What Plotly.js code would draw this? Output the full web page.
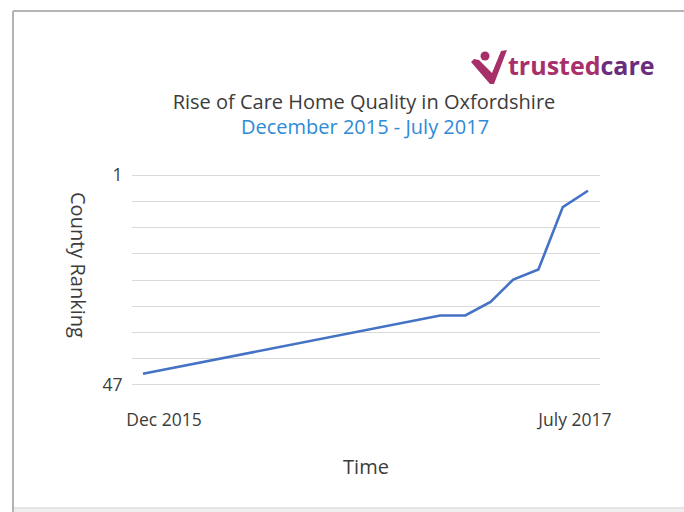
<!DOCTYPE html>
<html>
<head>
<meta charset="utf-8">
<script src="https://cdn.plot.ly/plotly-3.0.1.min.js"></script>
<style>html,body{margin:0;padding:0;background:#fff;}#chart{width:684px;height:512px;}</style>
</head>
<body>
<div id="chart"></div>
<script>
// ---- data ----
const months = ["2015-12-01","2016-12-01","2017-01-01","2017-02-01","2017-03-01","2017-04-01","2017-05-01","2017-06-01"];
const ranking = [44.6, 31.8, 31.8, 28.8, 23.9, 21.7, 8.0, 4.4];
const xTickVals = ["2015-12-27","2017-05-16"];
const xTickText = ["Dec 2015","July 2017"];
const yTickVals = [1, 6.75, 12.5, 18.25, 24, 29.75, 35.5, 41.25, 47];
const yTickText = ["1","","","","","","","","47"];
const titleText = "Rise of Care Home Quality in Oxfordshire";
const subtitleText = "December 2015 - July 2017";

// ---- layout helpers (pixel -> paper) ----
const L = 132, R = 600, T = 173, B = 387;
const fx = p => (p - L) / (R - L);
const fy = p => (B - p) / (B - T);
function path(pts) {
  return pts.map((c, i) => (i ? 'L' : 'M') + fx(c[0]).toFixed(4) + ',' + fy(c[1]).toFixed(4)).join(' ') + ' Z';
}

const FONT = '"Open Sans", sans-serif';
const TXT = '#3c3c3c';

const trace = {
  x: months, y: ranking, type: 'scatter', mode: 'lines',
  line: {color: '#4472c4', width: 2.6}, hoverinfo: 'skip'
};

const layout = {
  width: 684, height: 512,
  margin: {l: L, r: 684 - R, t: T, b: 512 - B, pad: 0},
  paper_bgcolor: '#ffffff', plot_bgcolor: '#ffffff',
  showlegend: false,
  font: {family: FONT, color: TXT},
  title: {
    text: titleText,
    font: {family: FONT, size: 20, color: TXT},
    xref: 'paper', x: fx(364), xanchor: 'center',
    yref: 'container', y: 1 - 102 / 512, yanchor: 'middle'
  },
  xaxis: {
    type: 'date',
    range: ["2015-11-17 12:00", "2017-06-15 20:00"],
    tickvals: xTickVals, ticktext: xTickText,
    ticks: 'outside', ticklen: 17, tickcolor: 'rgba(0,0,0,0)',
    tickfont: {family: FONT, size: 17.5, color: TXT},
    showgrid: false, zeroline: false, showline: false,
    title: {text: 'Time', font: {family: FONT, size: 20, color: TXT}, standoff: 29}
  },
  yaxis: {
    range: [47.5, 0.5],
    tickvals: yTickVals, ticktext: yTickText,
    ticks: 'outside', ticklen: 5, tickcolor: 'rgba(0,0,0,0)',
    tickfont: {family: FONT, size: 17.5, color: TXT},
    showgrid: true, gridcolor: '#d9d9d9', gridwidth: 1,
    zeroline: false, showline: false
  },
  annotations: [
    {text: subtitleText, xref: 'paper', yref: 'paper', x: fx(365), y: fy(126),
     xanchor: 'center', yanchor: 'middle', showarrow: false,
     font: {family: FONT, size: 20, color: '#2e8bd6'}},
    {text: 'County Ranking', textangle: 90, xref: 'paper', yref: 'paper',
     x: fx(79), y: fy(265), xanchor: 'center', yanchor: 'middle', showarrow: false,
     font: {family: FONT, size: 20, color: TXT}},
    {text: '<b><span style="color:#a8306a">trusted</span><span style="color:#6b2c7e">care</span></b>',
     xref: 'paper', yref: 'paper', x: fx(506), y: fy(65), xanchor: 'left', yanchor: 'middle',
     showarrow: false, font: {family: FONT, size: 25}}
  ],
  shapes: [
    // frame
    {type: 'line', xref: 'paper', yref: 'paper', x0: fx(13), x1: fx(684), y0: fy(11), y1: fy(11), line: {color: '#b4b4b4', width: 2}},
    {type: 'line', xref: 'paper', yref: 'paper', x0: fx(13), x1: fx(13), y0: fy(11), y1: fy(512), line: {color: '#b4b4b4', width: 2}},
    {type: 'rect', xref: 'paper', yref: 'paper', x0: fx(14), x1: fx(684), y0: fy(507), y1: fy(509), line: {width: 0}, fillcolor: '#e4e4e4'},
    {type: 'rect', xref: 'paper', yref: 'paper', x0: fx(14), x1: fx(684), y0: fy(509), y1: fy(512), line: {width: 0}, fillcolor: '#efefef'},
    // logo icon
    {type: 'path', xref: 'paper', yref: 'paper', line: {width: 0}, fillcolor: '#a8306a',
     path: path([[471,62],[474,59],[479,60],[483,64],[492,73],[501,51],[507,50],[494,84],[490,84]])},
    {type: 'circle', xref: 'paper', yref: 'paper', line: {width: 0}, fillcolor: '#a8306a',
     x0: fx(480.5), x1: fx(489.5), y0: fy(51.5), y1: fy(60.5)}
  ]
};

Plotly.newPlot('chart', [trace], layout, {staticPlot: true, displayModeBar: false});
</script>
</body>
</html>
